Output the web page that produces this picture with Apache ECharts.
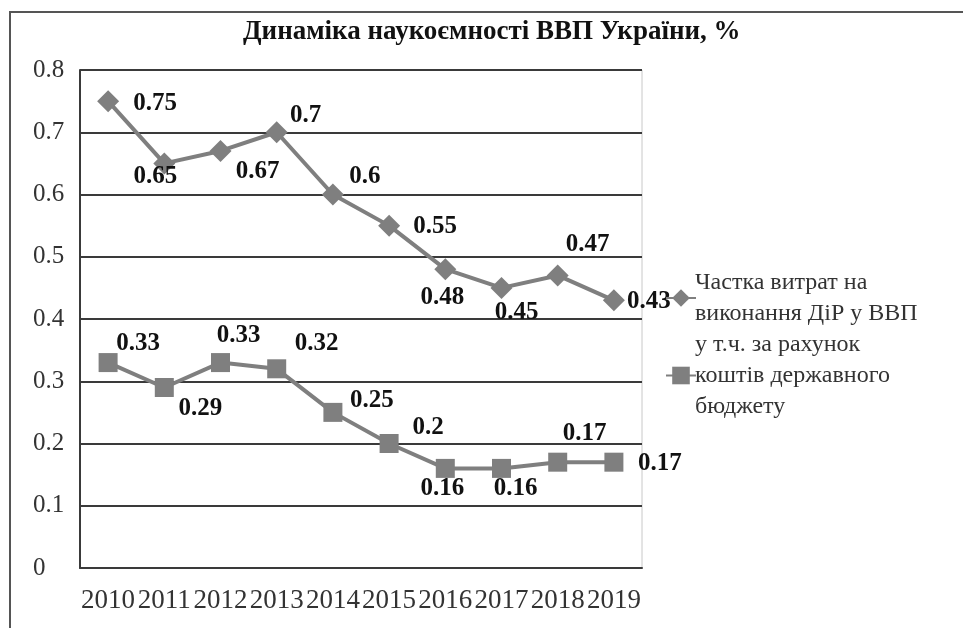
<!DOCTYPE html>
<html>
<head>
	<meta charset="utf-8">
	<title>Динаміка наукоємності ВВП України</title>
	<style>
		html, body { margin: 0; padding: 0; background: #fff; }
		#chart { width: 963px; height: 628px; }
	</style>
</head>
<body>
<div id="chart"></div>
<script src="https://cdn.jsdelivr.net/npm/echarts@6/dist/echarts.min.js"></script>
<script type="text/javascript">
	var years = ['2010', '2011', '2012', '2013', '2014', '2015', '2016', '2017', '2018', '2019'];
	var shareGdp = [0.75, 0.65, 0.67, 0.7, 0.6, 0.55, 0.48, 0.45, 0.47, 0.43];
	var shareBudget = [0.33, 0.29, 0.33, 0.32, 0.25, 0.2, 0.16, 0.16, 0.17, 0.17];
	var yTicks = [0, 0.1, 0.2, 0.3, 0.4, 0.5, 0.6, 0.7, 0.8];
	var seriesNames = ['Частка витрат на\nвиконання ДіР у ВВП', 'у т.ч. за рахунок\nкоштів державного\nбюджету'];

	// where each value label sits, relative to its point
	var gdpLabelShift = [[47, 2], [-9, 13], [37, 21], [29, -17], [32, -18], [46, 1], [-3, 28], [15, 25], [30, -31], [35, 1]];
	var budgetLabelShift = [[30, -19], [36, 21], [18, -27], [40, -25], [39, -12], [39, -16], [-3, 20], [14, 20], [27, -29], [46, 1]];

	var serif = '"Liberation Serif", "DejaVu Serif", serif';

	function withLabels(values, shifts) {
		return values.map(function (v, i) {
			return { value: v, label: { offset: shifts[i] } };
		});
	}

	var chart = echarts.init(document.getElementById('chart'), null, { renderer: 'canvas' });
	chart.setOption({
		animation: false,
		backgroundColor: '#fff',
		textStyle: { fontFamily: serif },
		title: {
			text: 'Динаміка наукоємності ВВП України, %',
			left: 238,
			top: 14,
			textStyle: { fontFamily: serif, fontSize: 27, fontWeight: 'bold', color: '#111' }
		},
		graphic: [{
			type: 'rect',
			shape: { x: 10, y: 12, width: 1000, height: 700 },
			style: { fill: null, stroke: '#555', lineWidth: 2 },
			silent: true
		}],
		grid: {
			left: 80, right: 321, top: 70, bottom: 60,
			show: true, borderColor: '#c8c8c8', borderWidth: 1
		},
		legend: {
			orient: 'vertical',
			left: 660,
			top: 262,
			itemWidth: 30,
			itemHeight: 22,
			itemGap: 0,
			textStyle: { fontFamily: serif, fontSize: 24, color: '#333', lineHeight: 31, padding: [0, 0, 0, -6] },
			data: seriesNames
		},
		xAxis: {
			type: 'category',
			data: years,
			boundaryGap: true,
			axisLine: { lineStyle: { color: '#3a3a3a', width: 2 } },
			axisTick: { show: false },
			axisLabel: { fontFamily: serif, fontSize: 27, color: '#333', margin: 19, interval: 0 }
		},
		yAxis: {
			type: 'value',
			min: yTicks[0],
			max: yTicks[yTicks.length - 1],
			interval: 0.1,
			axisLine: { show: true, lineStyle: { color: '#3a3a3a', width: 2 } },
			axisTick: { show: false },
			splitLine: { lineStyle: { color: '#3a3a3a', width: 2 } },
			axisLabel: {
				fontFamily: serif, fontSize: 25, color: '#333', align: 'left', margin: 47,
				formatter: function (v) { return String(Math.round(v * 10) / 10); }
			}
		},
		series: [{
			name: seriesNames[0],
			type: 'line',
			data: withLabels(shareGdp, gdpLabelShift),
			symbol: 'diamond',
			symbolSize: 22,
			itemStyle: { color: '#7f7f7f' },
			lineStyle: { color: '#7f7f7f', width: 4 },
			label: {
				show: true, position: 'inside',
				fontFamily: serif, fontSize: 25, fontWeight: 'bold', color: '#111'
			}
		}, {
			name: seriesNames[1],
			type: 'line',
			data: withLabels(shareBudget, budgetLabelShift),
			symbol: 'rect',
			symbolSize: 19,
			itemStyle: { color: '#7f7f7f' },
			lineStyle: { color: '#7f7f7f', width: 4 },
			label: {
				show: true, position: 'inside',
				fontFamily: serif, fontSize: 25, fontWeight: 'bold', color: '#111'
			}
		}]
	});
</script>
</body>
</html>
